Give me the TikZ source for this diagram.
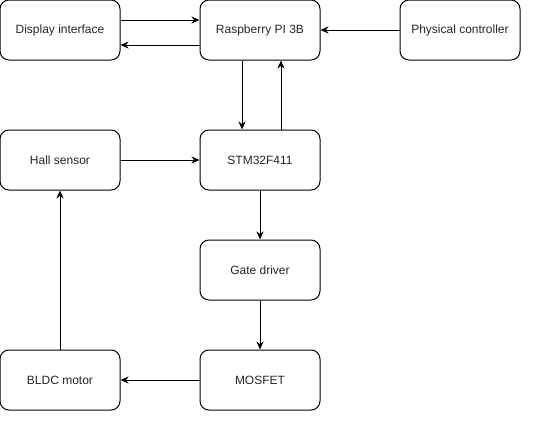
\documentclass[tikz,border=0pt]{standalone}
\usepackage{fontspec}
\setmainfont{Liberation Sans}
\usetikzlibrary{arrows.meta}
\begin{document}
\begin{tikzpicture}[x=1pt,y=-1pt,
  blk/.style={draw=black,line width=1pt,rounded corners=9pt,minimum width=120pt,minimum height=60pt,inner sep=0pt,font=\fontsize{12}{14}\selectfont,text=black!85,fill=white},
  arr/.style={draw=black,line width=1pt,-{Stealth[length=8pt,width=7pt,inset=2.5pt]}}]
\useasboundingbox (0,0) rectangle (533,423);
\node[blk] (disp) at (60,30) {Display interface};
\node[blk] (rpi) at (260,30) {Raspberry PI 3B};
\node[blk] (phys) at (460,30) {Physical controller};
\node[blk] (hall) at (60,160) {Hall sensor};
\node[blk] (stm) at (260,160) {STM32F411};
\node[blk] (gate) at (260,270) {Gate driver};
\node[blk] (bldc) at (60,380) {BLDC motor};
\node[blk] (mos) at (260,380) {MOSFET};
\draw[arr] ([yshift=10pt]disp.east) -- ([yshift=10pt]rpi.west);
\draw[arr] ([yshift=-15pt]rpi.west) -- ([yshift=-15pt]disp.east);
\draw[arr] (phys.west) -- (rpi.east);
\draw[arr] ([xshift=-18pt]rpi.south) -- ([xshift=-18pt]stm.north);
\draw[arr] ([xshift=21pt]stm.north) -- ([xshift=21pt]rpi.south);
\draw[arr] (hall.east) -- (stm.west);
\draw[arr] (stm.south) -- (gate.north);
\draw[arr] (gate.south) -- (mos.north);
\draw[arr] (mos.west) -- (bldc.east);
\draw[arr] (bldc.north) -- (hall.south);
\end{tikzpicture}
\end{document}
